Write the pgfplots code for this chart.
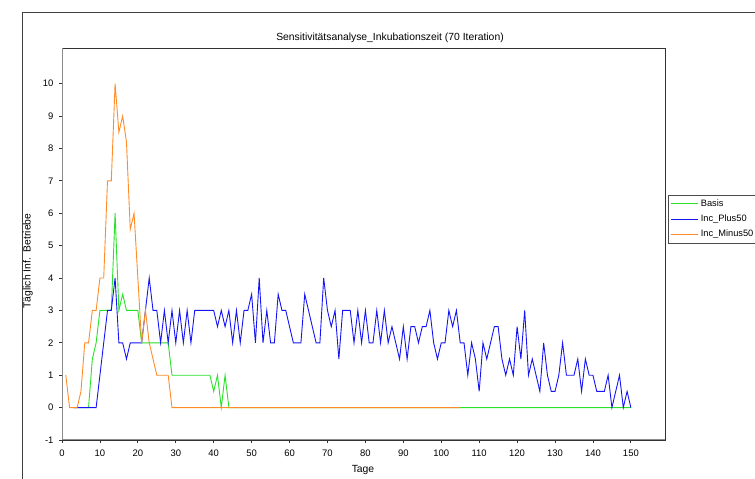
\documentclass[border=0pt]{standalone}
\usepackage{pgfplots}
\pgfplotsset{compat=1.18}
\usepackage{fontspec}
\setmainfont{Liberation Sans}
\definecolor{cgreen}{RGB}{40,225,40}
\definecolor{cblue}{RGB}{20,20,245}
\definecolor{corange}{RGB}{255,140,40}
\begin{document}
\begin{tikzpicture}[x=1bp,y=1bp]
\useasboundingbox (0,0) rectangle (755,479);
\draw[black!75, line width=1bp] (22,-20) -- (22,466) -- (800,466);
\begin{axis}[
  scale only axis, width=603bp, height=392bp,
  at={(62bp,39bp)}, anchor=south west,
  xmin=0, xmax=159, ymin=-1, ymax=11.1,
  xtick={0,10,...,150}, ytick={-1,0,...,10},
  tick align=outside, xtick pos=left, ytick pos=left,
  major tick length=3bp,
  tick style={black!80, line width=0.8bp},
  axis line style={black!80, line width=0.8bp},
  ticklabel style={font=\fontsize{9.5}{11}\selectfont},
  xticklabel style={yshift=-3bp},
  yticklabel style={xshift=-2bp},
  /pgf/number format/assume math mode=true,
  legend style={at={(1.005,0.625)}, anchor=north west, draw=black!70,
    font=\fontsize{9.3}{11}\selectfont, inner sep=2.5bp, row sep=3bp,
    legend cell align=left},
  legend image post style={xscale=1.6},
  every axis plot/.append style={line width=0.9bp},
]
\addplot[cgreen] coordinates {
(3,0)(4,0)(5,0)(6,0)(7,0)(8,1.5)(9,2)(10,3)(11,3)(12,3)(13,3)(14,6)(15,3)(16,3.5)(17,3)(18,3)(19,3)(20,3)
(21,2)(22,2)(23,2)(24,2)(25,2)(26,2)(27,2)(28,2)(29,1)(30,1)(31,1)(32,1)(33,1)(34,1)(35,1)(36,1)(37,1)(38,1)(39,1)
(40,0.5)(41,1)(42,0)(43,1)(44,0)(45,0)(60,0)(80,0)(100,0)(120,0)(140,0)(150,0)
};
\addlegendentry{\makebox[70bp][l]{Basis}}
\addplot[cblue] coordinates {
(3,0)(4,0)(5,0)(6,0)(7,0)(8,0)(9,0)(10,1)(11,2)(12,3)(13,3)(14,4)(15,2)(16,2)(17,1.5)(18,2)(19,2)(20,2)
(21,2)(22,3)(23,4)(24,3)(25,3)(26,2)(27,3)(28,2)(29,3)(30,2)(31,3)(32,2)(33,3)(34,2)(35,3)(36,3)(37,3)(38,3)(39,3)(40,3)
(41,2.5)(42,3)(43,2.5)(44,3)(45,2)(46,3)(47,2)(48,3)(49,3)(50,3.5)(51,2)(52,4)(53,2)(54,3)(55,2)(56,2)(57,3.5)(58,3)(59,3)(60,2.5)
(61,2)(62,2)(63,2)(64,3.5)(65,3)(66,2.5)(67,2)(68,2)(69,4)(70,3)(71,2.5)(72,3)(73,1.5)(74,3)(75,3)(76,3)(77,2)(78,3)(79,2)(80,3)
(81,2)(82,2)(83,3)(84,2)(85,3)(86,2)(87,2.5)(88,2)(89,1.5)(90,2.5)(91,1.5)(92,2.5)(93,2.5)(94,2)(95,2.5)(96,2.5)(97,3)(98,2)(99,1.5)(100,2)
(101,2)(102,3)(103,2.5)(104,3)(105,2)(106,2)(107,1)(108,2)(109,1.5)(110,0.5)(111,2)(112,1.5)(113,2)(114,2.5)(115,2.5)(116,1.5)(117,1)(118,1.5)(119,1)(120,2.5)
(121,1.5)(122,3)(123,1)(124,1.5)(125,1)(126,0.5)(127,2)(128,1)(129,0.5)(130,0.5)(131,1)(132,2)(133,1)(134,1)(135,1)(136,1.5)(137,0.5)(138,1.5)(139,1)(140,1)
(141,0.5)(142,0.5)(143,0.5)(144,1)(145,0)(146,0.5)(147,1)(148,0)(149,0.5)(150,0)
};
\addlegendentry{\makebox[70bp][l]{Inc\_Plus50}}
\addplot[corange] coordinates {
(1,1)(2,0)(3,0)(4,0)(5,0.5)(6,2)(7,2)(8,3)(9,3)(10,4)(11,4)(12,7)(13,7)(14,10)(15,8.5)(16,9)(17,8.2)(18,5.5)(19,6)(20,4)
(21,2)(22,3)(23,2)(24,1.5)(25,1)(26,1)(27,1)(28,1)(29,0)(30,0)(50,0)(70,0)(90,0)(105,0)
};
\addlegendentry{\makebox[70bp][l]{Inc\_Minus50}}
\draw[black!45, line width=1.6bp] (rel axis cs:0,1) -- (rel axis cs:0,0) -- (rel axis cs:1,0);
\end{axis}
\node[font=\fontsize{10.4}{12}\selectfont] at (390,441) {Sensitivitätsanalyse\_Inkubationszeit (70 Iteration)};
\node[font=\fontsize{10.4}{12}\selectfont, rotate=90] at (28,218) {Täglich Inf.\ \ Betriebe};
\node[font=\fontsize{10.4}{12}\selectfont] at (363,9) {Tage};
\end{tikzpicture}
\end{document}
